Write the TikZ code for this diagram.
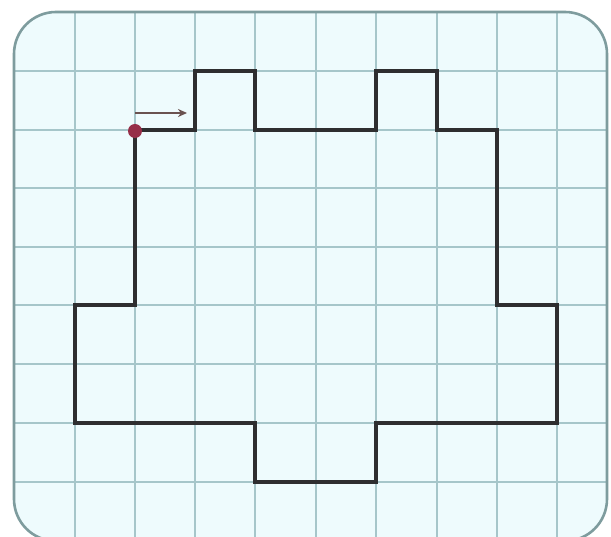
\documentclass[tikz,border=0pt]{standalone}
\usetikzlibrary{arrows.meta}
\definecolor{paper}{HTML}{EEFBFD}
\definecolor{gridc}{HTML}{A6C6CA}
\definecolor{framec}{HTML}{7E9C9E}
\definecolor{pathc}{HTML}{2E2E30}
\definecolor{dotc}{HTML}{962E48}
\definecolor{arrc}{HTML}{6A5250}
\tikzset{
  gridline/.style={draw=gridc, line width=1.8pt},
  frame/.style={draw=framec, line width=2.6pt, rounded corners=42pt},
  outline/.style={draw=pathc, line width=3.6pt, line join=miter},
  startdot/.style={circle, fill=dotc, minimum size=14pt, inner sep=0pt},
  dirarrow/.style={draw=arrc, line width=2.4pt, -{Stealth[length=9pt,width=8pt]}}
}
\begin{document}
\begin{tikzpicture}[x=1pt,y=-1pt]
\useasboundingbox (0,0) rectangle (611,537);
\fill[white] (0,0) rectangle (611,537);
% paper
\begin{scope}
\clip[rounded corners=42pt] (14,12) rectangle (607,541);
\fill[paper] (14,12) rectangle (607,541);
\foreach \x in {75,135,195,255,316,376,437,497,557}
  \draw[gridline] (\x,0) -- (\x,545);
\foreach \y in {71,130,188,247,305,364,423,482}
  \draw[gridline] (0,\y) -- (611,\y);
\end{scope}
\draw[frame] (14,12) rectangle (607,541);
% outline
\draw[outline] (135,130) -- (195,130) -- (195,71) -- (255,71) -- (255,130)
  -- (376,130) -- (376,71) -- (437,71) -- (437,130) -- (497,130)
  -- (497,305) -- (557,305) -- (557,423) -- (376,423) -- (376,482)
  -- (255,482) -- (255,423) -- (75,423) -- (75,305) -- (135,305) -- cycle;
% start marker and direction
\node[startdot] (start) at (135,131) {};
\coordinate (arrtail) at (135,113);
\coordinate (arrhead) at (187,113);
\draw[dirarrow] (arrtail) -- (arrhead);
\end{tikzpicture}
\end{document}
